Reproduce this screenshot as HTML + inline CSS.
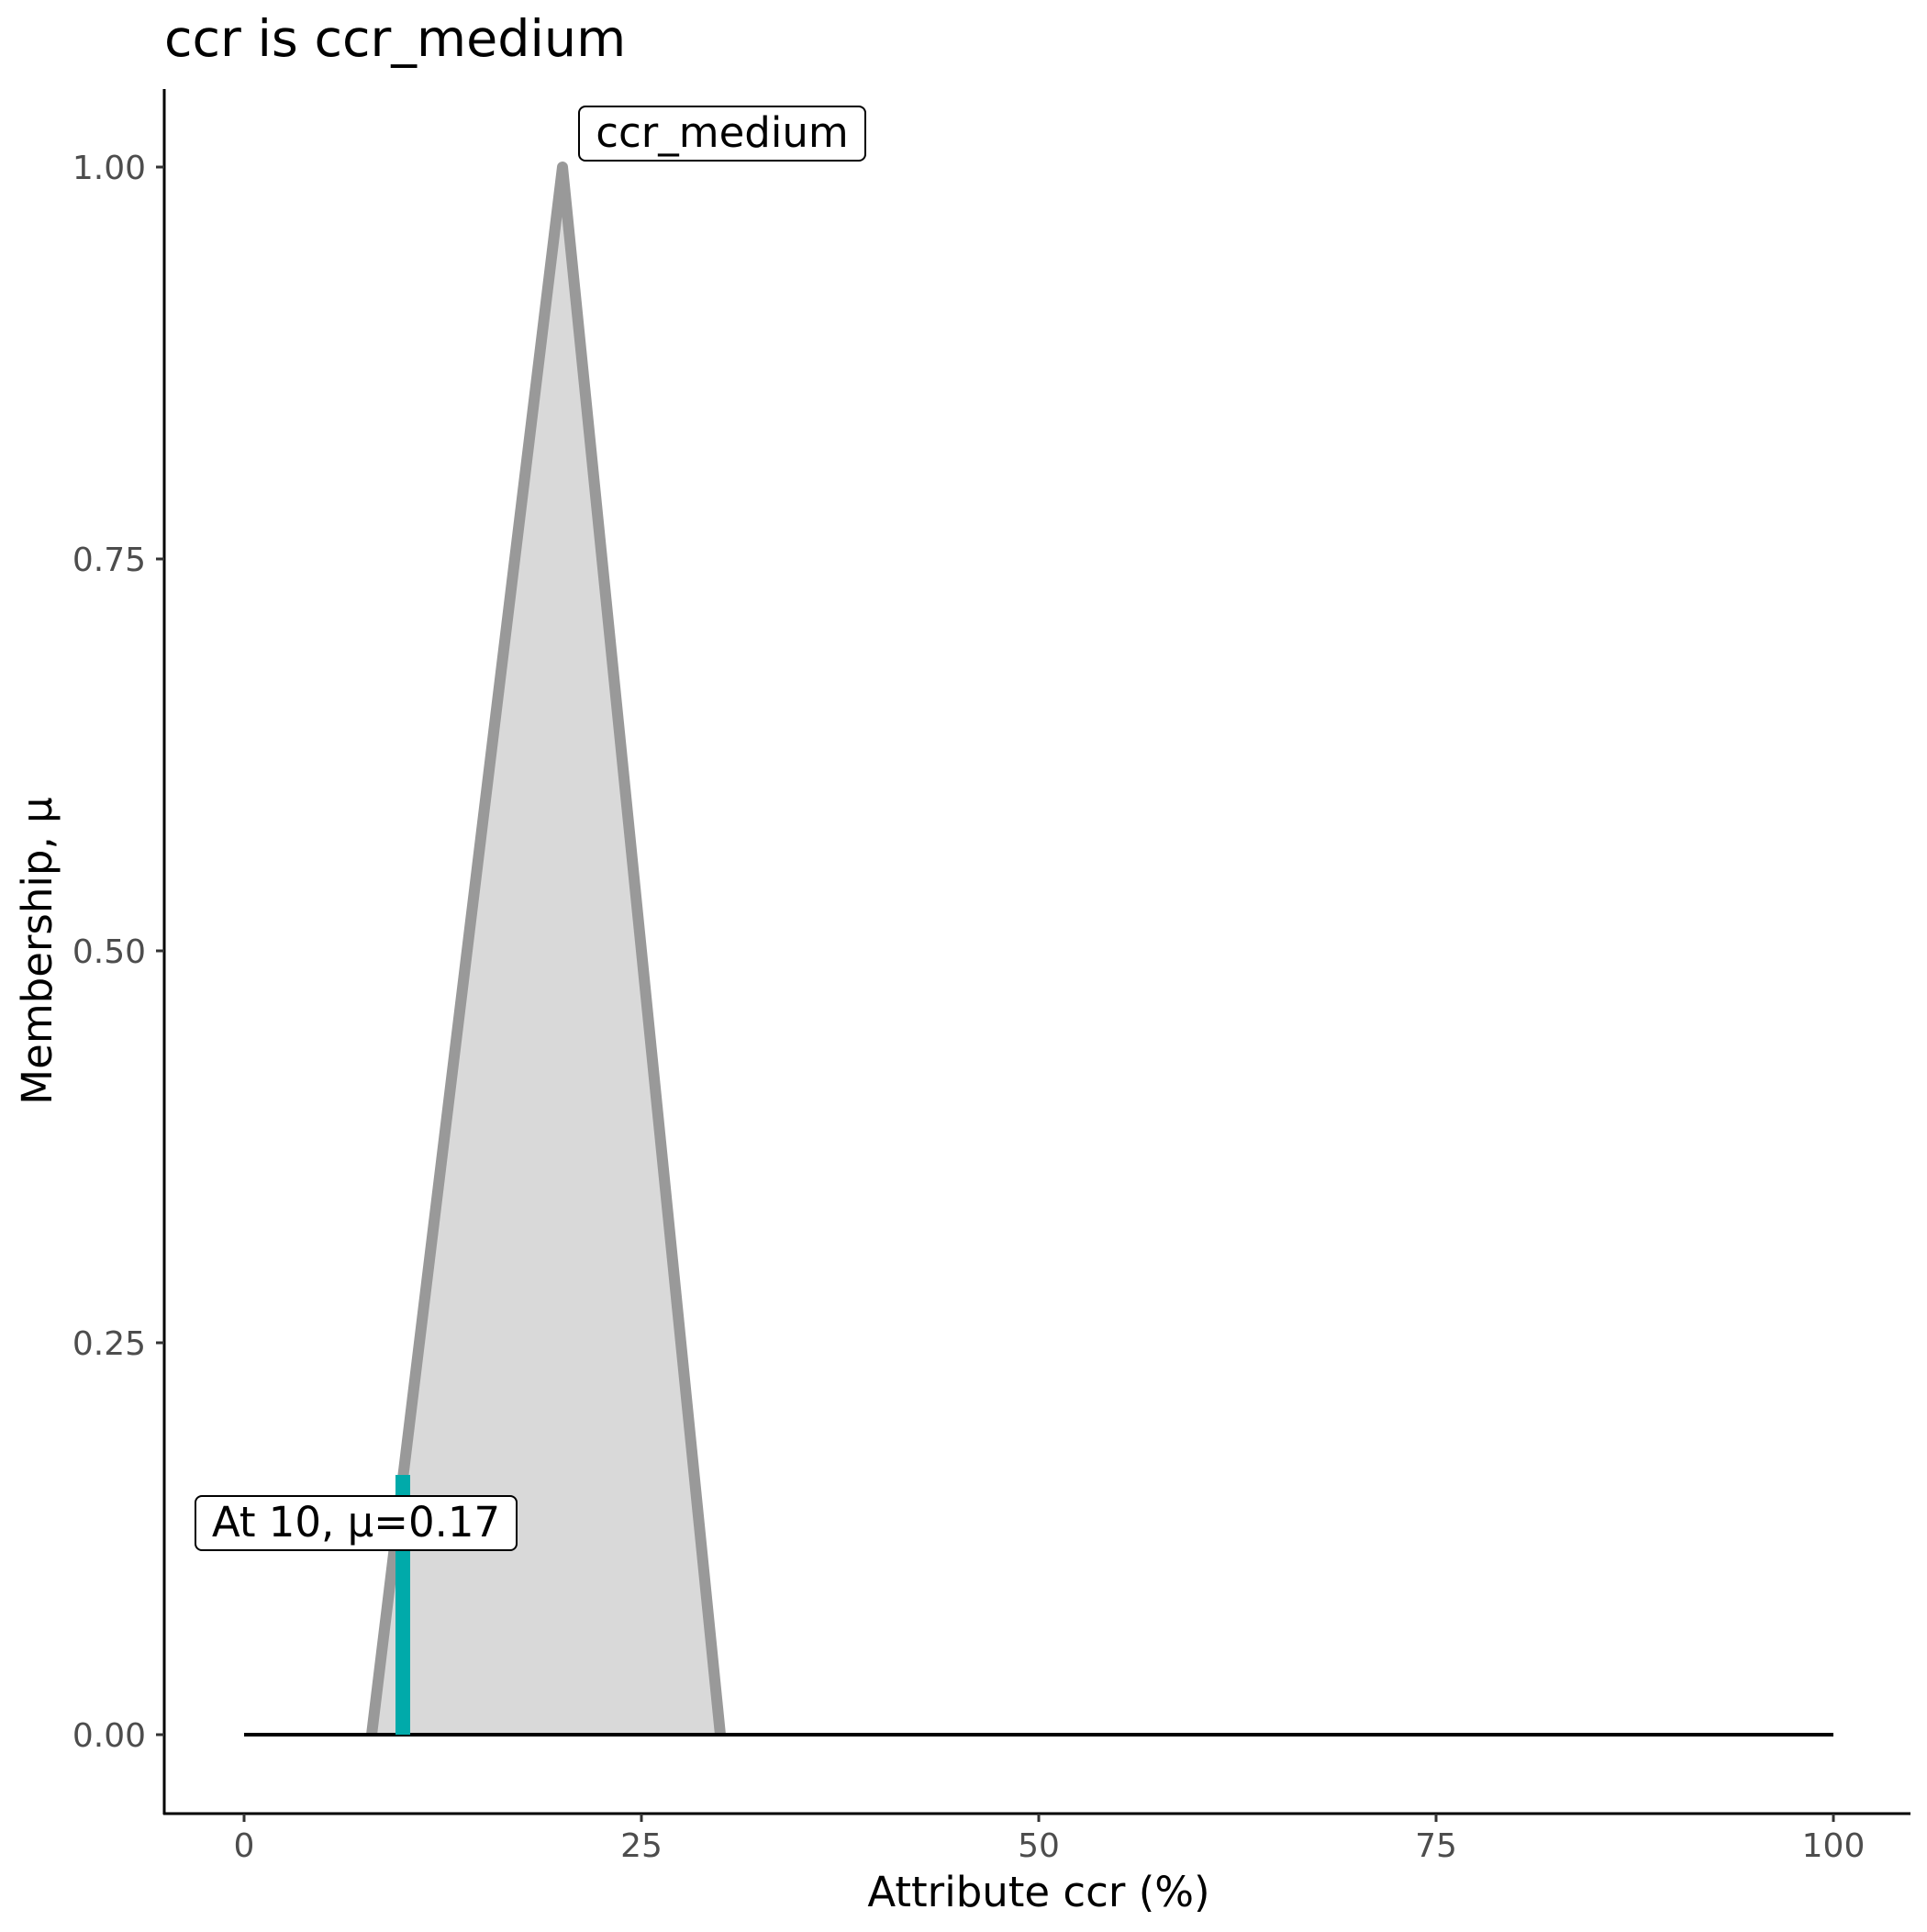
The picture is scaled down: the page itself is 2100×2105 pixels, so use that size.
<!DOCTYPE html>
<html><head><style>body{margin:0;background:#fff}</style></head><body>
<svg width="2100" height="2100" viewBox="0 0 2100 2100" xmlns="http://www.w3.org/2000/svg" font-family="DejaVu Sans, Liberation Sans, sans-serif">
<rect width="2100" height="2100" fill="#fff"/>
<text x="179" y="61" font-size="55.5" fill="#000">ccr is ccr_medium</text>
<polygon points="405,1890 613,182 785,1890" fill="#d9d9d9"/>
<polyline points="405,1890 613,182 785,1890" fill="none" stroke="#999" stroke-width="12" stroke-linejoin="round"/>
<line x1="266" y1="1890" x2="1998" y2="1890" stroke="#000" stroke-width="4"/>
<line x1="439" y1="1890" x2="439" y2="1607" stroke="#00aaaa" stroke-width="16"/>
<rect x="631" y="116" width="312" height="59" rx="7" fill="#fff" stroke="#000" stroke-width="2"/>
<text x="787" y="160" font-size="45" text-anchor="middle">ccr_medium</text>
<rect x="213" y="1630" width="350" height="59" rx="7" fill="#fff" stroke="#000" stroke-width="2"/>
<text x="388" y="1674" font-size="45" text-anchor="middle">At 10, μ=0.17</text>
<line x1="179" y1="97" x2="179" y2="1977" stroke="#000" stroke-width="3"/>
<line x1="178" y1="1976" x2="2082" y2="1976" stroke="#000" stroke-width="3"/>
<g stroke="#333" stroke-width="3">
<line x1="170" y1="182" x2="179" y2="182"/><line x1="170" y1="609" x2="179" y2="609"/><line x1="170" y1="1036" x2="179" y2="1036"/><line x1="170" y1="1463" x2="179" y2="1463"/><line x1="170" y1="1890" x2="179" y2="1890"/>
<line x1="266" y1="1976" x2="266" y2="1985"/><line x1="699" y1="1976" x2="699" y2="1985"/><line x1="1132" y1="1976" x2="1132" y2="1985"/><line x1="1565" y1="1976" x2="1565" y2="1985"/><line x1="1998" y1="1976" x2="1998" y2="1985"/>
</g>
<g font-size="36" fill="#4d4d4d" text-anchor="end">
<text x="159" y="195">1.00</text><text x="159" y="622">0.75</text><text x="159" y="1049">0.50</text><text x="159" y="1476">0.25</text><text x="159" y="1903">0.00</text>
</g>
<g font-size="36" fill="#4d4d4d" text-anchor="middle">
<text x="266" y="2023">0</text><text x="699" y="2023">25</text><text x="1132" y="2023">50</text><text x="1565" y="2023">75</text><text x="1998" y="2023">100</text>
</g>
<text x="1132" y="2077" font-size="45" text-anchor="middle">Attribute ccr (%)</text>
<text transform="translate(56,1036) rotate(-90)" font-size="45" text-anchor="middle">Membership, μ</text>
</svg>
</body></html>
